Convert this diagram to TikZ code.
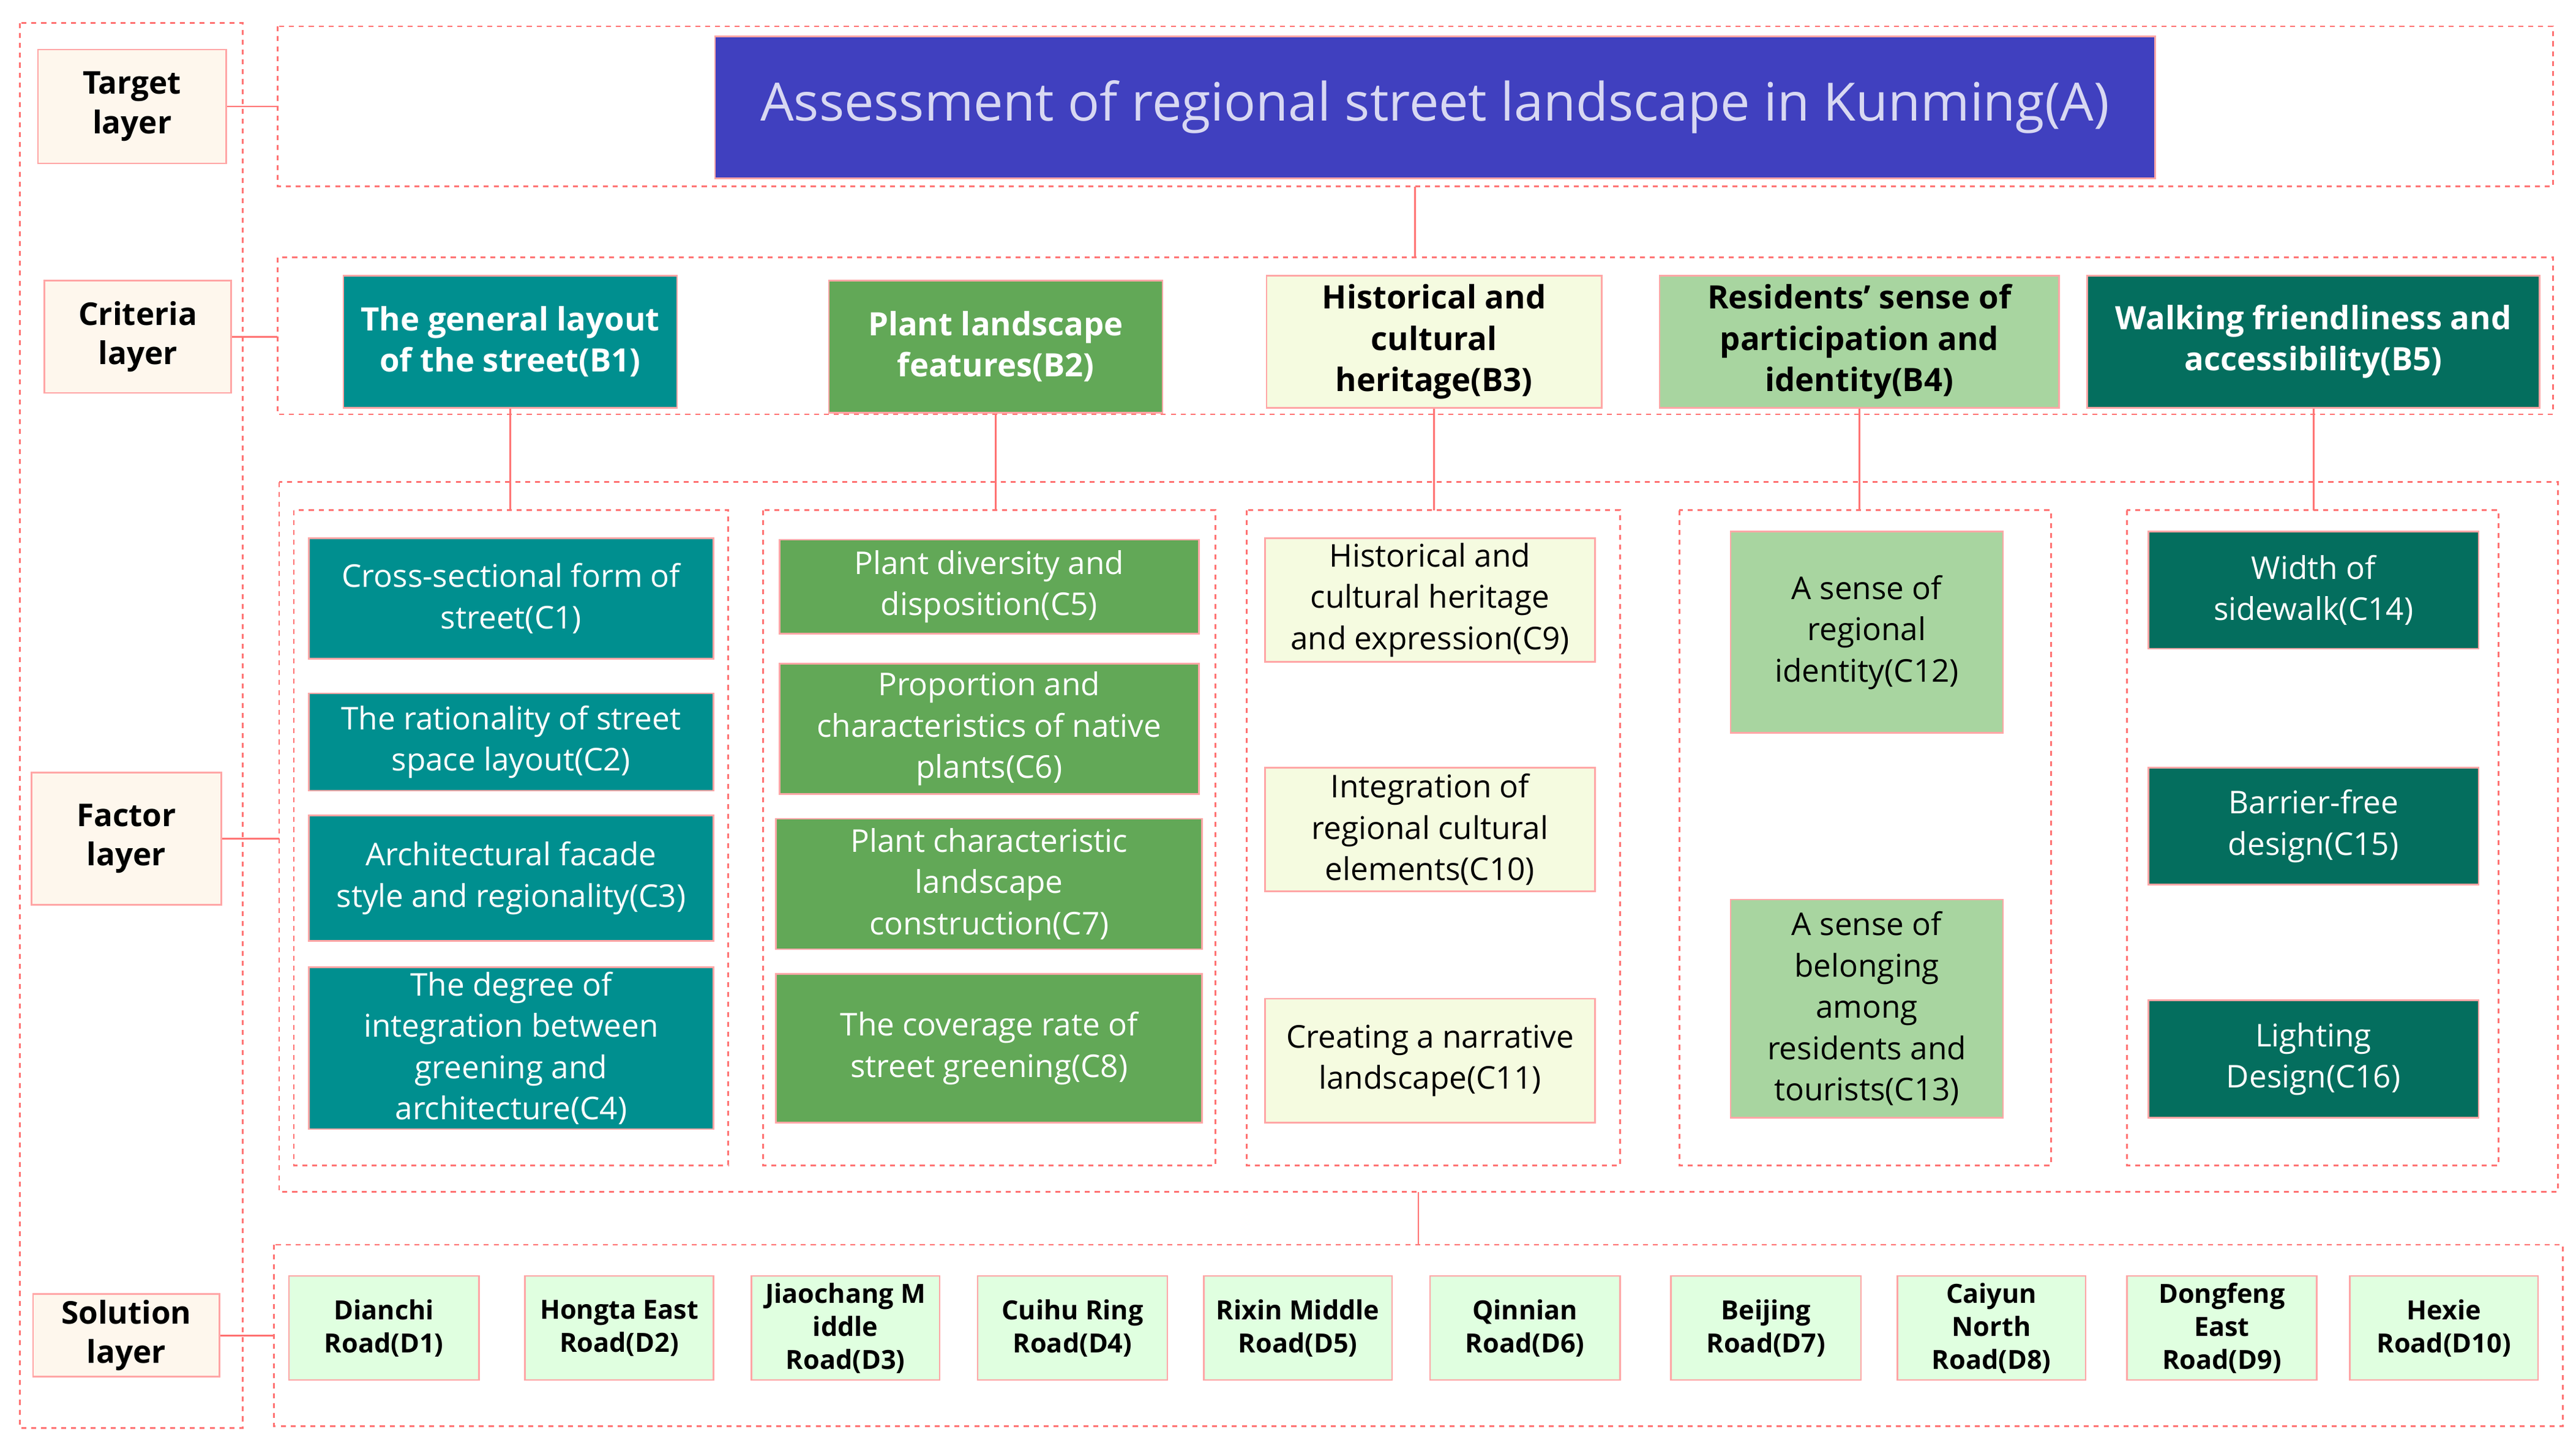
\documentclass[tikz,border=0pt]{standalone}
\usepackage{fontspec}
\setmainfont{Open Sans}
\begin{document}
\begin{tikzpicture}[x=1pt,y=-1pt,
 dbox/.style={draw=red!55!white,dashed,line width=1pt},
 conn/.style={draw=red!55!white,line width=1pt},
 bx/.style={draw=red!35!white,line width=1pt,align=center,inner sep=0pt},
 lay/.style={bx,fill=yellow!8!orange!6,font=\bfseries\fontsize{19}{24}\selectfont},
 cb/.style={font=\bfseries\fontsize{19.5}{25}\selectfont},
 cc/.style={font=\fontsize{19}{25}\selectfont},
 dd/.style={bx,fill=green!12,font=\bfseries\fontsize{16}{20}\selectfont}]
\useasboundingbox (0,0) rectangle (1560,874);
\def\R#1#2#3#4#5#6#7{\node[bx,#6,minimum width=#3-#1,minimum height=#4-#2] (#5) at ({(#1+#3)/2},{(#2+#4)/2}) {#7};}
\definecolor{tl}{HTML}{008F8F}\definecolor{gr}{HTML}{62A857}\definecolor{lg}{HTML}{F5FBE0}
\definecolor{mg}{HTML}{A8D5A0}\definecolor{dt}{HTML}{046E5E}\definecolor{ti}{HTML}{4040BF}
\definecolor{tt}{HTML}{D8D8F2}
% dashed frames
\draw[dbox] (12,14) rectangle (147,865);
\draw[dbox] (168,16) rectangle (1546,113);
\draw[dbox] (168,156) rectangle (1546,251);
\draw[dbox] (169,292) rectangle (1549,722);
\draw[dbox] (166,754) rectangle (1552,864);
\draw[dbox] (178,309) rectangle (441,706);
\draw[dbox] (462,309) rectangle (736,706);
\draw[dbox] (755,309) rectangle (981,706);
\draw[dbox] (1017,309) rectangle (1242,706);
\draw[dbox] (1288,309) rectangle (1513,706);
\coordinate (rT) at (168,65); \coordinate (rC) at (168,204);
\coordinate (rF) at (169,508); \coordinate (rS) at (166,809);
\coordinate (tBot) at (857,113); \coordinate (cTop) at (857,156);
\coordinate (fBot) at (859,722); \coordinate (sTop) at (859,754);
\coordinate (fTop) at (0,309);
% layers
\R{23}{30}{137}{99}{Lt}{lay}{Target\\layer}
\R{27}{170}{140}{238}{Lc}{lay}{Criteria\\layer}
\R{19}{468}{134}{548}{Lf}{lay}{Factor\\layer}
\R{20}{784}{133}{834}{Ls}{lay}{Solution\\layer}
\draw[conn] (Lt.east) -- (Lt.east-|rT);
\draw[conn] (Lc.east) -- (Lc.east-|rC);
\draw[conn] (Lf.east) -- (Lf.east-|rF);
\draw[conn] (Ls.east) -- (Ls.east-|rS);
% title
\R{433}{22}{1305}{108}{A}{fill=ti,text=tt,font=\fontsize{32}{38}\selectfont}{Assessment of regional street landscape in Kunming(A)}
\draw[conn] (tBot) -- (cTop);
\draw[conn] (fBot) -- (sTop);
% B
\R{208}{167}{410}{247}{B1}{fill=tl,text=white,cb}{The general layout\\of the street(B1)}
\R{502}{170}{704}{250}{B2}{fill=gr,text=white,cb}{Plant landscape\\features(B2)}
\R{767}{167}{970}{247}{B3}{fill=lg,cb}{Historical and\\cultural\\heritage(B3)}
\R{1005}{167}{1247}{247}{B4}{fill=mg,cb}{Residents' sense of\\participation and\\identity(B4)}
\R{1264}{167}{1538}{247}{B5}{fill=dt,text=white,cb}{Walking friendliness and\\accessibility(B5)}
\foreach \b in {B1,B2,B3,B4,B5} \draw[conn] (\b.south) -- (\b.south|-fTop);
% C
\R{187}{326}{432}{399}{C1}{fill=tl,text=white,cc}{Cross-sectional form of\\street(C1)}
\R{187}{420}{432}{479}{C2}{fill=tl,text=white,cc}{The rationality of street\\space layout(C2)}
\R{187}{494}{432}{570}{C3}{fill=tl,text=white,cc}{Architectural facade\\style and regionality(C3)}
\R{187}{586}{432}{684}{C4}{fill=tl,text=white,cc}{The degree of\\integration between\\greening and\\architecture(C4)}
\R{472}{327}{726}{384}{C5}{fill=gr,text=white,cc}{Plant diversity and\\disposition(C5)}
\R{472}{402}{726}{481}{C6}{fill=gr,text=white,cc}{Proportion and\\characteristics of native\\plants(C6)}
\R{470}{496}{728}{575}{C7}{fill=gr,text=white,cc}{Plant characteristic\\landscape\\construction(C7)}
\R{470}{590}{728}{680}{C8}{fill=gr,text=white,cc}{The coverage rate of\\street greening(C8)}
\R{766}{326}{966}{401}{C9}{fill=lg,cc}{Historical and\\cultural heritage\\and expression(C9)}
\R{766}{465}{966}{540}{C10}{fill=lg,cc}{Integration of\\regional cultural\\elements(C10)}
\R{766}{605}{966}{680}{C11}{fill=lg,cc}{Creating a narrative\\landscape(C11)}
\R{1048}{322}{1213}{444}{C12}{fill=mg,cc}{A sense of\\regional\\identity(C12)}
\R{1048}{545}{1213}{677}{C13}{fill=mg,cc}{A sense of\\belonging\\among\\residents and\\tourists(C13)}
\R{1301}{322}{1501}{393}{C14}{fill=dt,text=white,cc}{Width of\\sidewalk(C14)}
\R{1301}{465}{1501}{536}{C15}{fill=dt,text=white,cc}{Barrier-free\\design(C15)}
\R{1301}{606}{1501}{677}{C16}{fill=dt,text=white,cc}{Lighting\\Design(C16)}
% D
\R{175}{773}{290}{836}{D1}{dd}{Dianchi\\Road(D1)}
\R{318}{773}{432}{836}{D2}{dd}{Hongta East\\Road(D2)}
\R{455}{773}{569}{836}{D3}{dd}{Jiaochang M\\iddle\\Road(D3)}
\R{592}{773}{707}{836}{D4}{dd}{Cuihu Ring\\Road(D4)}
\R{729}{773}{843}{836}{D5}{dd}{Rixin Middle\\Road(D5)}
\R{866}{773}{981}{836}{D6}{dd}{Qinnian\\Road(D6)}
\R{1012}{773}{1127}{836}{D7}{dd}{Beijing\\Road(D7)}
\R{1149}{773}{1263}{836}{D8}{dd}{Caiyun\\North\\Road(D8)}
\R{1288}{773}{1403}{836}{D9}{dd}{Dongfeng\\East\\Road(D9)}
\R{1423}{773}{1537}{836}{D10}{dd}{Hexie\\Road(D10)}
\end{tikzpicture}
\end{document}
